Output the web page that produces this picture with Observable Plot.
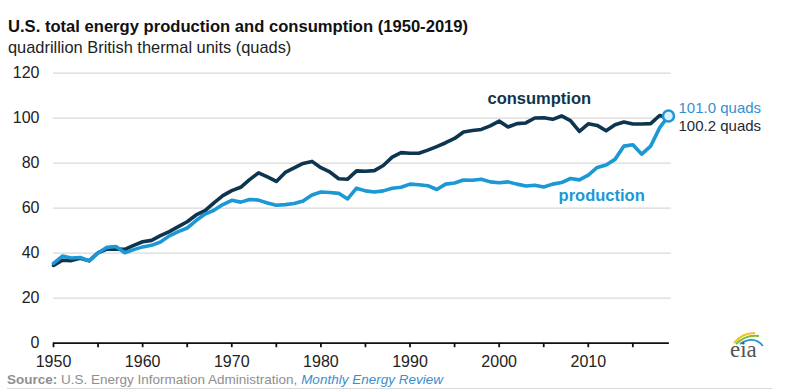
<!DOCTYPE html>
<html>
<head>
<meta charset="utf-8">
<script src="https://cdn.jsdelivr.net/npm/d3@7"></script>
<script src="https://cdn.jsdelivr.net/npm/@observablehq/plot@0.6"></script>
<style>
  html, body { margin: 0; padding: 0; background: #fff; }
  body { width: 789px; height: 391px; position: relative; overflow: hidden; font-family: "Liberation Sans", Arial, sans-serif; }
  #title { position: absolute; left: 8px; top: 19px; font-size: 16.6px; font-weight: bold; color: #111; line-height: 1; white-space: nowrap; }
  #subtitle { position: absolute; left: 8px; top: 39px; font-size: 16.4px; color: #222; line-height: 1; white-space: nowrap; }
  #chart { position: absolute; left: 0; top: 60px; }
  #source { position: absolute; left: 7px; top: 373px; font-size: 13.5px; color: #8f8f8f; line-height: 1; white-space: nowrap; }
  #source b { color: #8f8f8f; }
  #source i { color: #3c8dcc; }
  #rule { position: absolute; left: 7px; top: 388px; width: 765px; height: 1px; background: #d8d8d8; }
  #logo { position: absolute; left: 727px; top: 328px; width: 44px; height: 34px; overflow: visible; }
</style>
</head>
<body>
<div id="title">U.S. total energy production and consumption (1950-2019)</div>
<div id="subtitle">quadrillion British thermal units (quads)</div>
<div id="chart"></div>
<div id="source"><b>Source:</b> U.S. Energy Information Administration, <i>Monthly Energy Review</i></div>
<div id="rule"></div>
<svg id="logo" viewBox="0 0 44 34">
  <path d="M7 15 Q15 5 28 5" fill="none" stroke="#f2c418" stroke-width="2"/>
  <path d="M9 16 Q19 6 32 8" fill="none" stroke="#7cbf3b" stroke-width="2"/>
  <path d="M13 16 Q27 7 36 18" fill="none" stroke="#2a8fd0" stroke-width="1.6"/>
  <text x="3" y="29" font-family="'Liberation Serif', 'DejaVu Serif', serif" font-size="23" fill="#555">eia</text>
</svg>
<script>
const years = d3.range(1950, 2020);
const consumption = [
  34.6, 36.9, 36.7, 37.7, 36.6, 40.2, 41.8, 41.8, 41.7, 43.5,
  45.1, 45.7, 47.8, 49.6, 51.8, 54.0, 57.0, 58.9, 62.4, 65.6,
  67.8, 69.3, 72.7, 75.7, 73.9, 71.9, 75.9, 77.9, 79.9, 80.8,
  78.0, 76.1, 73.1, 72.9, 76.6, 76.4, 76.7, 79.0, 82.7, 84.7,
  84.4, 84.4, 85.8, 87.4, 89.1, 91.0, 93.9, 94.5, 95.0, 96.6,
  98.7, 96.1, 97.6, 97.9, 100.1, 100.2, 99.5, 101.0, 98.9, 94.1,
  97.5, 96.8, 94.4, 97.1, 98.3, 97.4, 97.4, 97.6, 101.2, 100.2
];
const production = [
  35.5, 38.7, 37.9, 38.1, 36.6, 40.1, 42.6, 43.0, 40.2, 41.6,
  42.8, 43.5, 45.0, 47.7, 49.6, 51.2, 54.5, 57.4, 59.1, 61.6,
  63.5, 62.7, 63.9, 63.6, 62.3, 61.3, 61.6, 62.1, 63.2, 65.9,
  67.2, 67.0, 66.6, 64.1, 68.9, 67.7, 67.2, 67.7, 68.9, 69.3,
  70.7, 70.4, 70.0, 68.3, 70.7, 71.2, 72.5, 72.4, 72.9, 71.7,
  71.3, 71.7, 70.7, 69.9, 70.2, 69.4, 70.7, 71.4, 73.2, 72.6,
  74.7, 78.1, 79.2, 81.7, 87.6, 88.2, 84.0, 87.6, 95.7, 101.0
];
const yTicks = [0, 20, 40, 60, 80, 100, 120];
const xTicks = d3.range(1950, 2020, 5);
const xLabels = [1950, 1960, 1970, 1980, 1990, 2000, 2010];
const seriesNames = ["consumption", "production"];

const colCons = "#0e3550";
const colProd = "#1c98d4";

const cons = years.map((y, i) => ({year: y, value: consumption[i]}));
const prod = years.map((y, i) => ({year: y, value: production[i]}));
const last = years.length - 1;

const chart = Plot.plot({
  width: 789,
  height: 310,
  marginLeft: 53,
  marginRight: 121,
  marginTop: 12.7,
  marginBottom: 27.3,
  style: {fontFamily: "'Liberation Sans', Arial, sans-serif", fontSize: "16px", color: "#222", background: "transparent"},
  x: {domain: [1950, 2019]},
  y: {domain: [0, 120]},
  marks: [
    Plot.ruleY(yTicks.filter(d => d > 0), {x1: 1950, x2: 2019.3, stroke: "#d9d9d9", strokeWidth: 1.2}),
    Plot.axisY({ticks: yTicks, tickSize: 0, tickPadding: 14, label: null, fill: "#222", fontSize: 16}),
    Plot.axisX({ticks: xTicks, tickSize: 4.5, tickPadding: 8, strokeWidth: 1.8, stroke: "#111",
      tickFormat: d => xLabels.includes(d) ? String(d) : "", label: null, fill: "#222", fontSize: 16}),
    Plot.ruleY([0], {x1: 1950, x2: 2019.1, stroke: "#111", strokeWidth: 1.8}),
    Plot.lineY(cons, {x: "year", y: "value", stroke: colCons, strokeWidth: 3.6}),
    Plot.lineY(prod, {x: "year", y: "value", stroke: colProd, strokeWidth: 3.6}),
    Plot.dot([prod[last]], {x: "year", y: "value", r: 5.5, stroke: colProd, strokeWidth: 2.5, fill: "#dcefff"}),
    Plot.text([prod[last]], {x: "year", y: "value", text: d => d.value.toFixed(1) + " quads",
      dx: 10, dy: -8, textAnchor: "start", fill: "#3690cc", fontSize: 15}),
    Plot.text([cons[last]], {x: "year", y: "value", text: d => d.value.toFixed(1) + " quads",
      dx: 10, dy: 8, textAnchor: "start", fill: "#1d2a36", fontSize: 15}),
    Plot.text([{name: seriesNames[0], year: 2004.5, value: 108.5}], {x: "year", y: "value", text: "name",
      fill: colCons, fontWeight: "bold", fontSize: 16.5}),
    Plot.text([{name: seriesNames[1], year: 2011.5, value: 65.5}], {x: "year", y: "value", text: "name",
      fill: colProd, fontWeight: "bold", fontSize: 16.5})
  ]
});
document.getElementById("chart").appendChild(chart);
</script>
</body>
</html>
